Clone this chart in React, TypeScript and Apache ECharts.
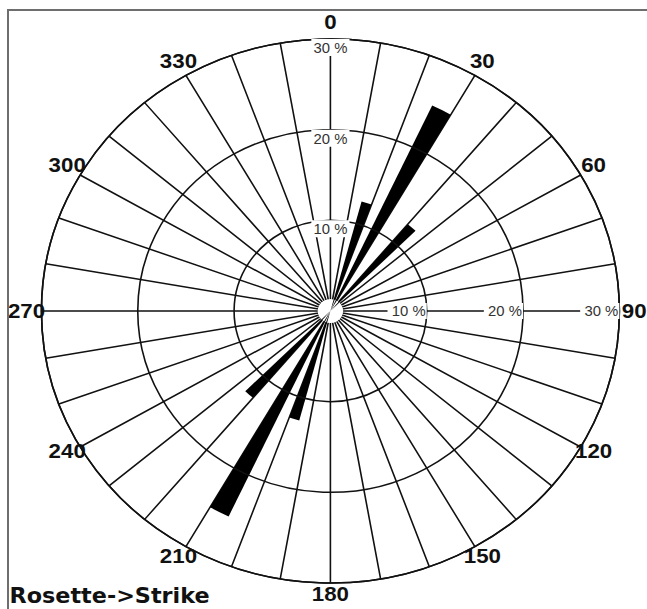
import React, { useEffect, useRef } from 'react';
import * as echarts from 'echarts';

// ---- data ----
const binStart = [15, 25, 40, 195, 205, 220];
const binEnd = [20, 30, 45, 200, 210, 225];
const percent = [12.5, 25, 12.5, 12.5, 25, 12.5];
const radialMax = 30;
const radialStep = 10;
const angleStep = 10;
const angleLabelStep = 30;
const chartTitle = 'Rosette->Strike';

// ---- layout ----
const W = 609;
const H = 609;
const SX = 647 / 609;
const CX = 311;
const CY = 311;
const R = 272;
const LABEL_FS = 21;
const LABEL_R = 286; // radius of the centre of each angle label
const LABEL_DY = -3; // small upward shift of all angle labels
const LABEL_MARGIN = -40;

// padding that turns ECharts' corner-anchored angle labels into labels centred on LABEL_R
function angleLabelRich() {
  const rich: Record<string, any> = {};
  for (let v = 0; v < 360; v += angleLabelStep) {
    const th = (v * Math.PI) / 180;
    const ux = Math.abs(Math.sin(th)) < 1e-9 ? 0 : Math.sin(th);
    const uy = Math.abs(Math.cos(th)) < 1e-9 ? 0 : -Math.cos(th);
    const ra = R + LABEL_MARGIN;
    const px = ux * ra;
    const py = uy * ra;
    const w = String(v).length * 0.556 * LABEL_FS;
    const h = LABEL_FS;
    const d = LABEL_R - ra;
    const dx = d * ux;
    const dy = d * uy + LABEL_DY;
    const hAlign = Math.abs(px) / R < 0.3 ? 'center' : px > 0 ? 'left' : 'right';
    const vAlign = Math.abs(py) / R < 0.3 ? 'middle' : py > 0 ? 'top' : 'bottom';
    let pl = 0, pr = 0, pt = 0, pb = 0;
    if (hAlign === 'center') {
      if (dx > 0) pl = 2 * dx; else pr = -2 * dx;
    } else if (hAlign === 'left') pl = dx - w / 2;
    else pr = -dx - w / 2;
    if (vAlign === 'top') pt = 2 * dy - h;
    else if (vAlign === 'bottom') pb = -2 * dy - h;
    rich['a' + v] = {
      fontFamily: 'Liberation Sans',
      fontWeight: 'bold',
      fontSize: LABEL_FS,
      lineHeight: LABEL_FS,
      color: '#111',
      padding: [pt, pr, pb, pl].map((x) => Math.max(0, Math.round(x * 10) / 10)),
    };
  }
  return rich;
}

export default function App() {
  const ref = useRef<HTMLDivElement>(null);

  useEffect(() => {
    if (!ref.current) return;
    const chart = echarts.init(ref.current, undefined, { renderer: 'svg' });
    const ink = '#111';
    const lineW = 1.5;

    const radiusBase = {
      type: 'value' as const,
      min: 0,
      max: radialMax,
      interval: radialStep,
      axisLine: { show: false },
      axisTick: { show: false },
    };

    chart.setOption({
      animation: false,
      backgroundColor: '#fff',
      title: {
        text: chartTitle,
        left: 9,
        top: 585,
        padding: 0,
        textStyle: { fontFamily: 'DejaVu Sans', fontSize: 21, fontWeight: 'bold', color: ink },
      },
      polar: [
        { center: [CX, CY], radius: R },
        { center: [CX, CY], radius: R },
      ],
      angleAxis: [
        {
          polarIndex: 0,
          type: 'value',
          min: 0,
          max: 360,
          interval: angleStep,
          startAngle: 90,
          clockwise: true,
          axisLine: { show: true, lineStyle: { color: ink, width: lineW } },
          axisTick: { show: false },
          splitLine: { show: true, lineStyle: { color: ink, width: lineW } },
          axisLabel: {
            margin: LABEL_MARGIN,
            fontFamily: 'Liberation Sans',
            fontWeight: 'bold',
            fontSize: LABEL_FS,
            color: ink,
            rich: angleLabelRich(),
            formatter: (v: number) =>
              v % angleLabelStep === 0 && v < 360 ? `{a${v}|${v}}` : '',
          },
        },
        {
          polarIndex: 1,
          type: 'value',
          min: 0,
          max: 360,
          startAngle: 0,
          clockwise: true,
          axisLine: { show: false },
          axisTick: { show: false },
          splitLine: { show: false },
          axisLabel: { show: false },
        },
      ],
      radiusAxis: [
        {
          ...radiusBase,
          polarIndex: 0,
          z: 3,
          splitLine: { show: true, lineStyle: { color: ink, width: lineW } },
          axisLabel: {
            showMinLabel: false,
            margin: 0,
            align: 'center',
            verticalAlign: 'top',
            fontFamily: 'Liberation Sans',
            fontSize: 14,
            color: '#333',
            backgroundColor: '#fff',
            padding: [2, 2, 1, 2],
            formatter: (v: number) => `${v} %`,
          },
        },
        {
          ...radiusBase,
          polarIndex: 1,
          z: 4,
          splitLine: { show: false },
          axisLabel: {
            showMinLabel: false,
            margin: 0,
            align: 'right',
            verticalAlign: 'middle',
            fontFamily: 'Liberation Sans',
            fontSize: 14,
            color: '#333',
            backgroundColor: '#fff',
            padding: [1, 1, 1, 4],
            formatter: (v: number) => `${v} %`,
          },
        },
      ],
      graphic: [
        { type: 'circle', z: 1, shape: { cx: CX, cy: CY, r: 12 }, style: { fill: '#fff' } },
      ],
      series: [
        {
          type: 'custom',
          coordinateSystem: 'polar',
          polarIndex: 0,
          z: 2,
          encode: { angle: 0, radius: 2 },
          data: binStart.map((s, i) => [s, binEnd[i], percent[i]]),
          renderItem: (params: any, api: any) => {
            const a0 = api.value(0);
            const a1 = api.value(1);
            const v = api.value(2);
            const cs = params.coordSys;
            const p = api.coord([v, a0]);
            const rr = Math.hypot(p[0] - cs.cx, p[1] - cs.cy);
            return {
              type: 'sector',
              shape: {
                cx: cs.cx,
                cy: cs.cy,
                r0: 0,
                r: rr,
                startAngle: ((a0 - 90) * Math.PI) / 180,
                endAngle: ((a1 - 90) * Math.PI) / 180,
                clockwise: true,
              },
              style: { fill: '#000' },
            };
          },
        },
      ],
    });

    return () => chart.dispose();
  }, []);

  return (
    <>
      <div
        style={{
          position: 'fixed',
          left: 0,
          top: 0,
          width: 647,
          height: 609,
          background: '#fff',
        }}
      />
      <div
        ref={ref}
        style={{
          position: 'fixed',
          left: 0,
          top: 0,
          width: W,
          height: H,
          transform: `scaleX(${SX})`,
          transformOrigin: '0 0',
        }}
      />
      <div
        style={{
          position: 'fixed',
          left: 7,
          top: 9,
          width: 640,
          height: 600,
          borderTop: '2px solid #6e6e6e',
          borderLeft: '2px solid #6e6e6e',
          boxSizing: 'border-box',
          pointerEvents: 'none',
        }}
      />
    </>
  );
}
